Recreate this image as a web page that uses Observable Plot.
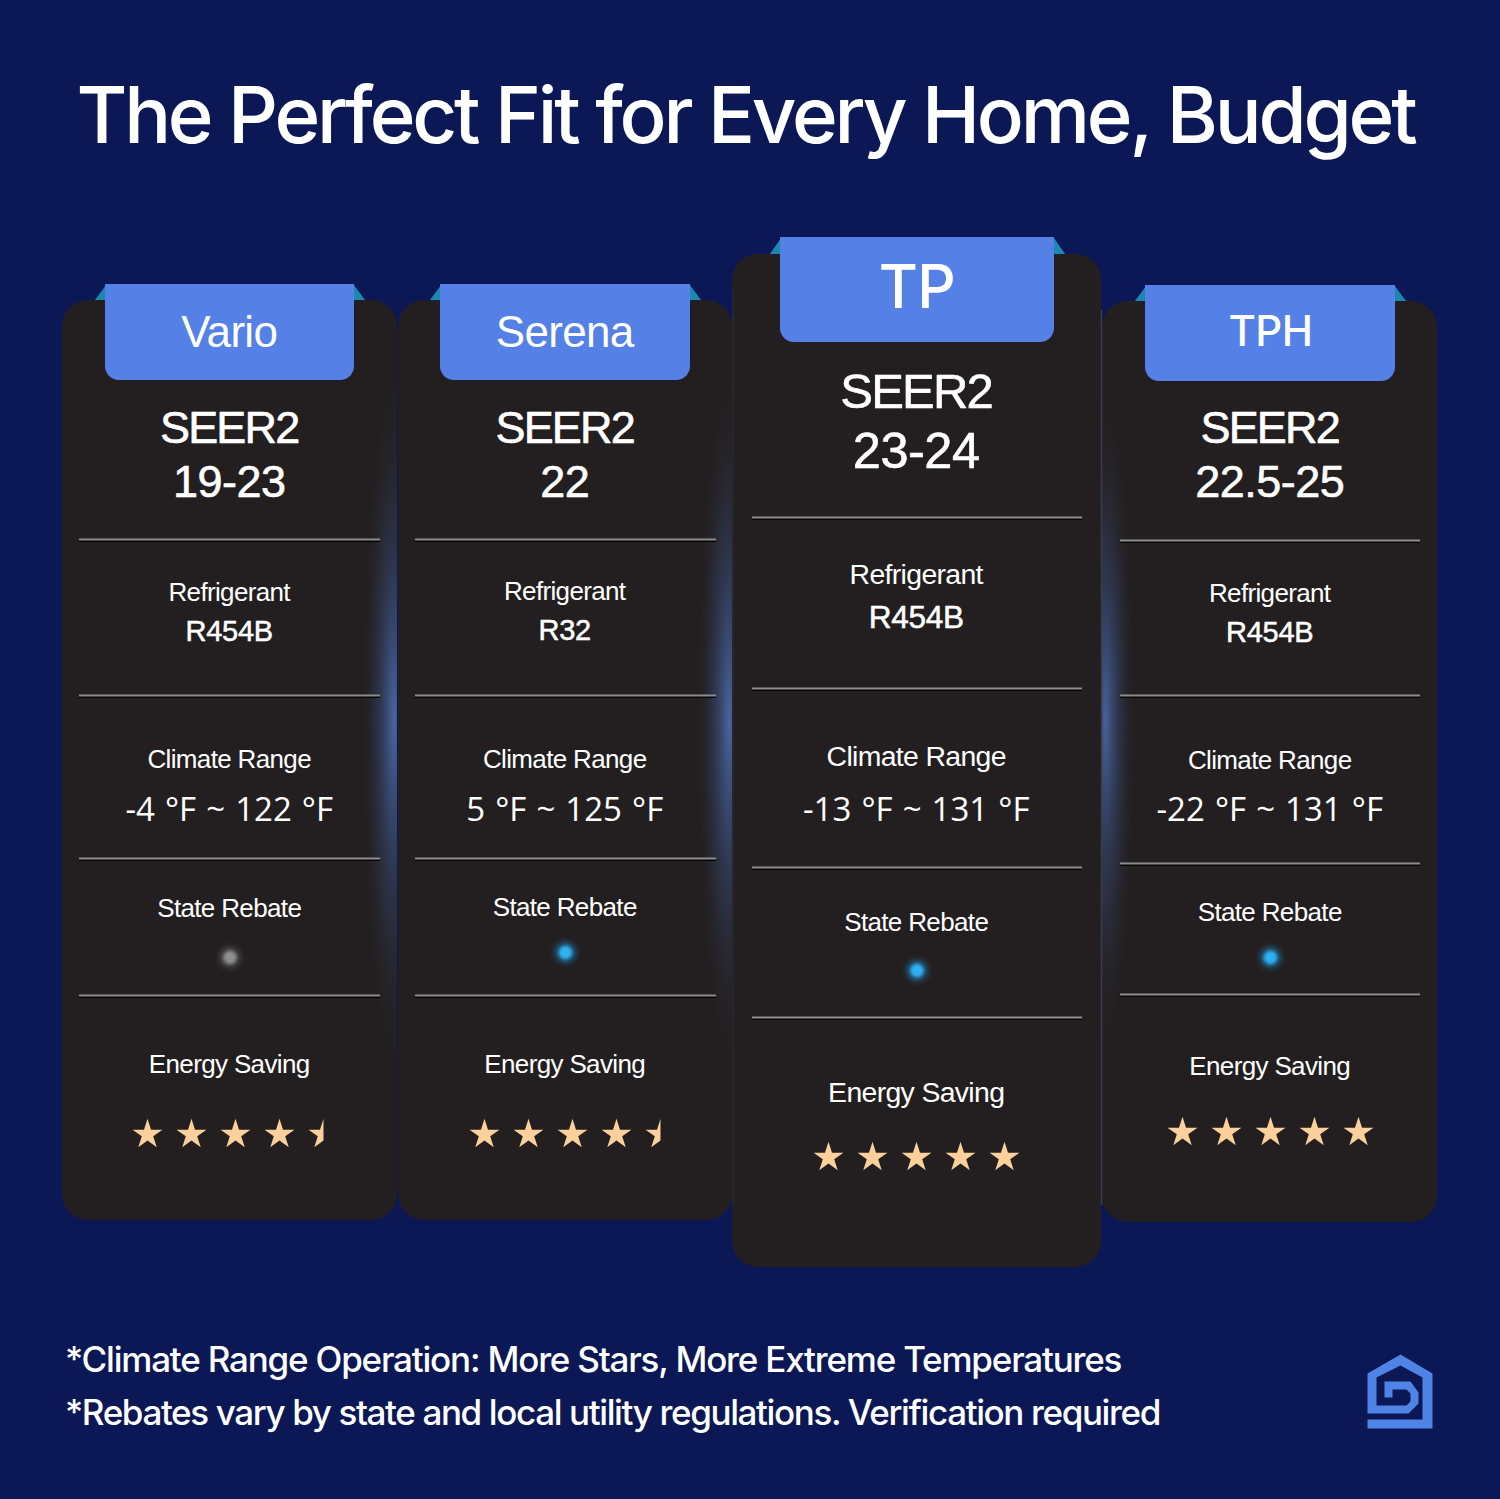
<!DOCTYPE html>
<html><head><meta charset="utf-8">
<script src="https://cdn.jsdelivr.net/npm/d3@7"></script>
<script src="https://cdn.jsdelivr.net/npm/@observablehq/plot@0.6"></script>
<style>
html,body{margin:0;padding:0;background:#0c1756}
svg{display:block}
g[aria-description="title"] text{letter-spacing:-3.2px}
g[aria-description="footnoteA"] text{letter-spacing:-1.2px}
g[aria-description="footnoteB"] text{letter-spacing:-1.38px}
g[aria-description="seerA"] text{letter-spacing:-1.8px}
g[aria-description="seerB"] text{letter-spacing:-.5px}
g[aria-description="labels"] text{letter-spacing:-.65px}
g[aria-description="refrigerant"] text{letter-spacing:-.3px}
g[aria-description="temps"] text{word-spacing:1.5px}
g[aria-description="modelsA"] text{letter-spacing:-.7px}
g[aria-description="modelsB"] text{letter-spacing:-.5px}
</style></head><body><div id="chart"></div>
<script>
// ---- chart content ----
const titleText = "The Perfect Fit for Every Home, Budget";
const footnotes = ["*Climate Range Operation: More Stars, More Extreme Temperatures",
                   "*Rebates vary by state and local utility regulations. Verification required"];
const models = ["Vario", "Serena", "TP", "TPH"];
const seerValues = ["19-23", "22", "23-24", "22.5-25"];
const refrigerants = ["R454B", "R32", "R454B", "R454B"];
const climateRanges = ["-4 °F ~ 122 °F", "5 °F ~ 125 °F", "-13 °F ~ 131 °F", "-22 °F ~ 131 °F"];
const rebates = [false, true, true, true];
const energyStars = [4.5, 4.5, 5, 5];

// ---- layout ----
const cardX1 = [62, 398, 732, 1102], cardX2 = [397, 732, 1101, 1437];
const cardY1 = [300, 300, 254, 301], cardY2 = [1220, 1220, 1267, 1222];
const tabX1 = [105, 440, 780, 1145], tabX2 = [354, 690, 1054, 1395];
const tabY1 = [284, 284, 237, 285], tabY2 = [380, 380, 342, 381];
const centerX = [229.5, 565, 916.5, 1270];
const textX = [228.7, 564.2, 915.7, 1269.2];
const ruleX1 = [79, 415, 752, 1120], ruleX2 = [380, 716, 1082, 1420];
const ruleYs = [[539,695,858,995],[539,695,858,995],[517,688,867,1017],[540,695,863,994]];
const rowY = {
  model:[332,332,288,332], seerA:[428,428,392,428], seerB:[482,482,451,482],
  refA:[592,591,574,593], refB:[631,630,617,632], climA:[759,759,756,760], climB:[810,810,810,810],
  rebA:[908,907,922,912], rebB:[957,952,970,957], enA:[1064,1064,1092,1066], stars:[1134,1134,1157,1132]
};
const starStartX = [147, 484, 828, 1182];
const starGap = 44;
const labelSize = 26, labelSizeTall = 28.4;
const idx = models.map((_, i) => i);
const tall = i => i === 2;

// ---- derived tables ----
const labelRows = idx.flatMap(i => [
  {x:textX[i], y:rowY.refA[i], t:"Refrigerant", s:tall(i)?labelSizeTall:labelSize},
  {x:textX[i], y:rowY.climA[i], t:"Climate Range", s:tall(i)?labelSizeTall:labelSize},
  {x:textX[i], y:rowY.rebA[i], t:"State Rebate", s:labelSize},
  {x:textX[i], y:rowY.enA[i], t:"Energy Saving", s:tall(i)?labelSizeTall:labelSize}
]);
const ruleRows = idx.flatMap(i => ruleYs[i].map(y => ({x1:ruleX1[i], x2:ruleX2[i], y})));
const fullStars = [], halfStars = [];
idx.forEach(i => {
  for (let s = 0; s < 5; s++) {
    const v = energyStars[i] - s;
    if (v >= 1) fullStars.push({x:starStartX[i] + s*starGap, y:rowY.stars[i]});
    else if (v > 0) halfStars.push({x:starStartX[i] + s*starGap, y:rowY.stars[i]});
  }
});
const triangleRows = idx.flatMap(i => [
  [[tabX1[i]-11,cardY1[i]],[tabX1[i]+1,tabY1[i]],[tabX1[i]+1,cardY1[i]]],
  [[tabX2[i]+11,cardY1[i]],[tabX2[i]-1,tabY1[i]],[tabX2[i]-1,cardY1[i]]]
]).flatMap((p, k) => p.map(([x,y]) => ({x,y,k})));
const logoPoly = [[1400,1354],[1432,1373],[1432,1428],[1367,1428],[1367,1419],[1422,1419],[1422,1377],[1400,1365],[1376,1377],[1376,1405],[1406,1405],[1410,1401],[1410,1393],[1406,1389],[1392,1389],[1392,1397],[1384,1397],[1384,1381],[1410,1381],[1418,1392],[1418,1403],[1408,1413],[1367,1413],[1367,1373]].map(([x,y])=>({x,y}));
const glowRows = [
  {x1:362, x2:397, y1:380, y2:1120, f:"url(#glowR)"},
  {x1:697, x2:732, y1:380, y2:1120, f:"url(#glowR)"},
  {x1:1102, x2:1134, y1:380, y2:1120, f:"url(#glowL)"}
];

// left half of a five-pointed star, same proportions as d3.symbolStar
const halfStar = { draw(ctx, size) {
  const ka = 0.8908130915292852, kr = Math.sin(Math.PI/10)/Math.sin(7*Math.PI/10);
  const r = Math.sqrt(size*ka);
  for (let i = 0; i <= 5; i++) {
    const a = -i*Math.PI/5, q = i % 2 ? r*kr : r;
    const px = q*Math.sin(a), py = -q*Math.cos(a);
    i ? ctx.lineTo(px, py) : ctx.moveTo(px, py);
  }
  ctx.closePath();
}};

const defs = () => {
  const d = d3.create("svg:defs");
  const mk = (id, cx, cy, peak, sy) => {
    const g = d.append("radialGradient").attr("id", id).attr("cx", 0).attr("cy", 0).attr("r", 1)
      .attr("gradientTransform", `translate(${cx},${cy}) scale(.9,${sy})`);
    g.append("stop").attr("offset", "0%").attr("stop-color", "#4d6eae").attr("stop-opacity", peak);
    g.append("stop").attr("offset", "40%").attr("stop-color", "#3c5285").attr("stop-opacity", peak*.6);
    g.append("stop").attr("offset", "100%").attr("stop-color", "#2a2d3c").attr("stop-opacity", 0);
  };
  mk("glowR", .92, .46, .9, .46);
  mk("glowL", .1, .46, .85, .44);
  return d.node();
};

const SANS = "Liberation Sans, Arimo, Helvetica, sans-serif";
const INTER = "Inter, sans-serif";
const chart = Plot.plot({
  width:1500, height:1499, margin:0,
  x:{domain:[0,1500], range:[0,1500], axis:null},
  y:{domain:[0,1499], range:[0,1499], axis:null},
  style:{background:"#0c1756"},
  marks:[
    defs,
    Plot.text([titleText], {x:745, y:118, text:d=>d, ariaDescription:"title", fill:"white", fontSize:78, fontWeight:500, fontFamily:INTER, lineAnchor:"middle"}),
    Plot.line(triangleRows, {x:"x", y:"y", z:"k", fill:"#1c86b4", stroke:null, curve:"linear"}),
    Plot.rect(idx, {x1:i=>cardX1[i], x2:i=>cardX2[i], y1:i=>cardY1[i], y2:i=>cardY2[i], fill:"#231f20", rx:26, ry:26}),
    Plot.rect(glowRows, {x1:"x1", x2:"x2", y1:"y1", y2:"y2", fill:"f"}),
    Plot.ruleX([1101], {y1:310, y2:1205, stroke:"#3b3d4e", strokeWidth:1.5}),
    Plot.ruleX([732.5], {y1:290, y2:1205, stroke:"#3b3d4e", strokeWidth:1, strokeOpacity:.5}),
    Plot.rect(idx, {x1:i=>tabX1[i], x2:i=>tabX2[i], y1:i=>tabY1[i]+30, y2:i=>tabY2[i], fill:"#5581e6", rx:14, ry:14}),
    Plot.rect(idx, {x1:i=>tabX1[i], x2:i=>tabX2[i], y1:i=>tabY1[i], y2:i=>tabY1[i]+50, fill:"#5581e6"}),
    Plot.text(idx.slice(0,2), {x:i=>textX[i], y:i=>rowY.model[i], text:i=>models[i], ariaDescription:"modelsA", fill:"white", fontSize:44, fontFamily:SANS, lineAnchor:"middle"}),
    Plot.text(idx.slice(2), {x:i=>centerX[i], y:i=>rowY.model[i], text:i=>models[i], ariaDescription:"modelsB", fill:"white", fontSize:i=>tall(i)?60:42, fontWeight:500, fontFamily:INTER, lineAnchor:"middle"}),
    Plot.text(idx, {x:i=>textX[i], y:i=>rowY.seerA[i], text:()=>"SEER2", ariaDescription:"seerA", fill:"white", stroke:"white", strokeWidth:.6, fontSize:i=>tall(i)?49:45, fontFamily:SANS, lineAnchor:"middle"}),
    Plot.text(idx, {x:i=>textX[i], y:i=>rowY.seerB[i], text:i=>seerValues[i], ariaDescription:"seerB", fill:"white", stroke:"white", strokeWidth:.6, fontSize:i=>tall(i)?50.5:45, fontFamily:SANS, lineAnchor:"middle"}),
    Plot.ruleY(ruleRows, {x1:"x1", x2:"x2", y:d=>d.y+1.5, stroke:"#050505", strokeWidth:2}),
    Plot.ruleY(ruleRows, {x1:"x1", x2:"x2", y:"y", stroke:"#8d8d8d", strokeWidth:2}),
    Plot.text(labelRows, {x:"x", y:"y", text:"t", ariaDescription:"labels", fill:"white", fontSize:"s", fontFamily:SANS, lineAnchor:"middle"}),
    Plot.text(idx, {x:i=>textX[i], y:i=>rowY.refB[i], text:i=>refrigerants[i], ariaDescription:"refrigerant", fill:"white", fontSize:i=>tall(i)?31.6:29, stroke:"white", strokeWidth:.5, fontFamily:SANS, lineAnchor:"middle"}),
    Plot.text(idx, {x:i=>textX[i], y:i=>rowY.climB[i], text:i=>climateRanges[i], ariaDescription:"temps", fill:"white", fontSize:33, fontFamily:"Open Sans, sans-serif", lineAnchor:"middle"}),
    Plot.dot(idx, {x:i=>centerX[i], y:i=>rowY.rebB[i], r:10, fill:i=>rebates[i]?"#1f9ee8":"#777777", imageFilter:"blur(3px)", opacity:.6}),
    Plot.dot(idx, {x:i=>centerX[i], y:i=>rowY.rebB[i], r:6.5, fill:i=>rebates[i]?"#2fb2f2":"#8f8f8f", imageFilter:"blur(1.5px)"}),
    Plot.dot(fullStars, {x:"x", y:"y", symbol:"star", r:9.4, fill:"#fbd09b"}),
    Plot.dot(halfStars, {x:"x", y:"y", symbol:halfStar, r:9.4, fill:"#fbd09b"}),
    Plot.text(footnotes.slice(0,1), {x:64.5, y:1360, text:d=>d, ariaDescription:"footnoteA", textAnchor:"start", fill:"white", fontSize:35, fontWeight:500, fontFamily:INTER, lineAnchor:"middle"}),
    Plot.text(footnotes.slice(1), {x:64.5, y:1413, text:d=>d, ariaDescription:"footnoteB", textAnchor:"start", fill:"white", fontSize:35, fontWeight:500, fontFamily:INTER, lineAnchor:"middle"}),
    Plot.line(logoPoly, {x:"x", y:"y", fill:"#4f83e6", stroke:null})
  ]
});
document.getElementById("chart").append(chart);
</script></body></html>
